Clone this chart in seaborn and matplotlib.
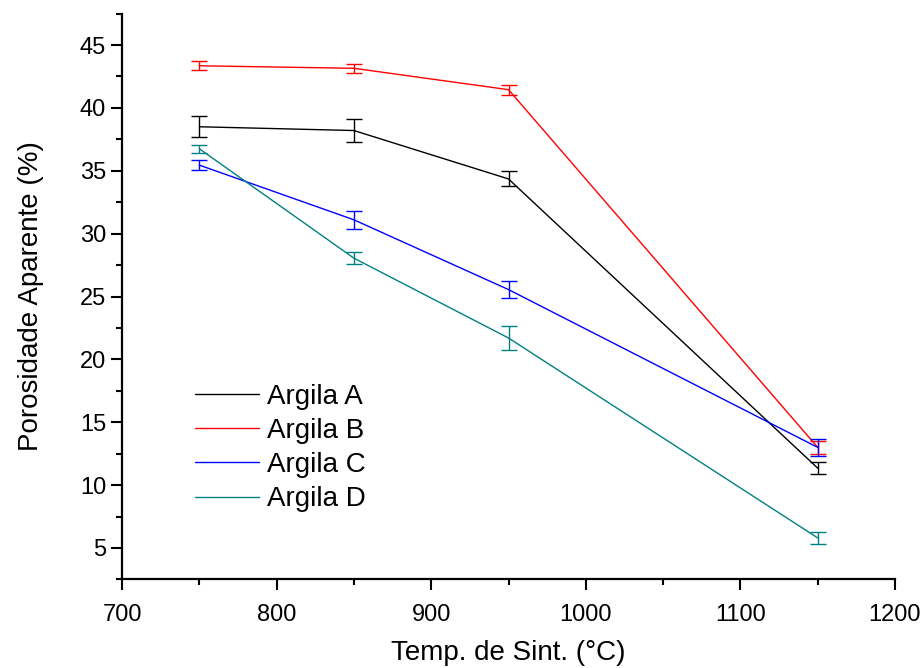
import matplotlib
matplotlib.use("Agg")
import matplotlib.pyplot as plt
import seaborn as sns
import pandas as pd
from matplotlib.ticker import MultipleLocator

temps = [750, 850, 950, 1150]
argila_a = [38.5, 38.2, 34.35, 11.35]
argila_b = [43.35, 43.15, 41.45, 13.0]
argila_c = [35.45, 31.1, 25.55, 13.0]
argila_d = [36.75, 28.05, 21.7, 5.8]
err_a = [0.85, 0.95, 0.6, 0.5]
err_b = [0.35, 0.37, 0.4, 0.5]
err_c = [0.37, 0.7, 0.69, 0.65]
err_d = [0.3, 0.49, 0.95, 0.46]
labels = ["Argila A", "Argila B", "Argila C", "Argila D"]
colors = ["#000000", "#FF0000", "#0000FF", "#008080"]

series = [argila_a, argila_b, argila_c, argila_d]
errs = [err_a, err_b, err_c, err_d]
rows = []
for lab, vals, es in zip(labels, series, errs):
    for t, v, e in zip(temps, vals, es):
        rows.append({"Temp": t, "Porosidade": v, "err": e, "Argila": lab})
df = pd.DataFrame(rows)

sns.set_style("ticks")
plt.rcParams["font.family"] = ["Liberation Sans", "DejaVu Sans"]
plt.rcParams["text.color"] = "black"
plt.rcParams["axes.labelcolor"] = "black"
plt.rcParams["xtick.color"] = "black"
plt.rcParams["ytick.color"] = "black"

fig = plt.figure(figsize=(9.24, 6.68), dpi=100)
ax = fig.add_axes([122/924, 1-579.4/668, (895-122)/924, (579.4-13.6)/668])

palette = dict(zip(labels, colors))
sns.lineplot(data=df, x="Temp", y="Porosidade", hue="Argila", palette=palette,
             linewidth=1.0, ax=ax, legend=True, errorbar=None)
for lab in labels:
    sub = df[df["Argila"] == lab]
    ax.errorbar(sub["Temp"], sub["Porosidade"], yerr=sub["err"], fmt="none",
                ecolor=palette[lab], elinewidth=1.0, capsize=6, capthick=1.0)

ax.set_xlim(700, 1200)
ax.set_ylim(2.5, 47.5)
ax.xaxis.set_major_locator(MultipleLocator(100))
ax.xaxis.set_minor_locator(MultipleLocator(50))
ax.yaxis.set_major_locator(MultipleLocator(5))
ax.yaxis.set_minor_locator(MultipleLocator(2.5))
ax.tick_params(which="major", direction="out", length=8, width=1.5, labelsize=17,
               color="black", labelcolor="black")
ax.tick_params(which="minor", direction="out", length=4, width=1.5, color="black")
ax.tick_params(axis="x", pad=10)
for s in ["left", "bottom"]:
    ax.spines[s].set_linewidth(1.6)
    ax.spines[s].set_color("black")
for s in ["top", "right"]:
    ax.spines[s].set_visible(False)

ax.set_xlabel("Temp. de Sint. (°C)", fontsize=20, labelpad=10, color="black")
ax.set_ylabel("Porosidade Aparente (%)", fontsize=20, labelpad=26, color="black")

handles, labs = ax.get_legend_handles_labels()
leg = ax.legend(handles, labs, loc="center left", bbox_to_anchor=(195/924, 1-448/668),
                bbox_transform=fig.transFigure, frameon=False, fontsize=20,
                handlelength=2.3, handletextpad=0.3, labelspacing=0.3,
                borderpad=0, borderaxespad=0)
for t in leg.get_texts():
    t.set_color("black")

fig.savefig("out.png", dpi=100)
